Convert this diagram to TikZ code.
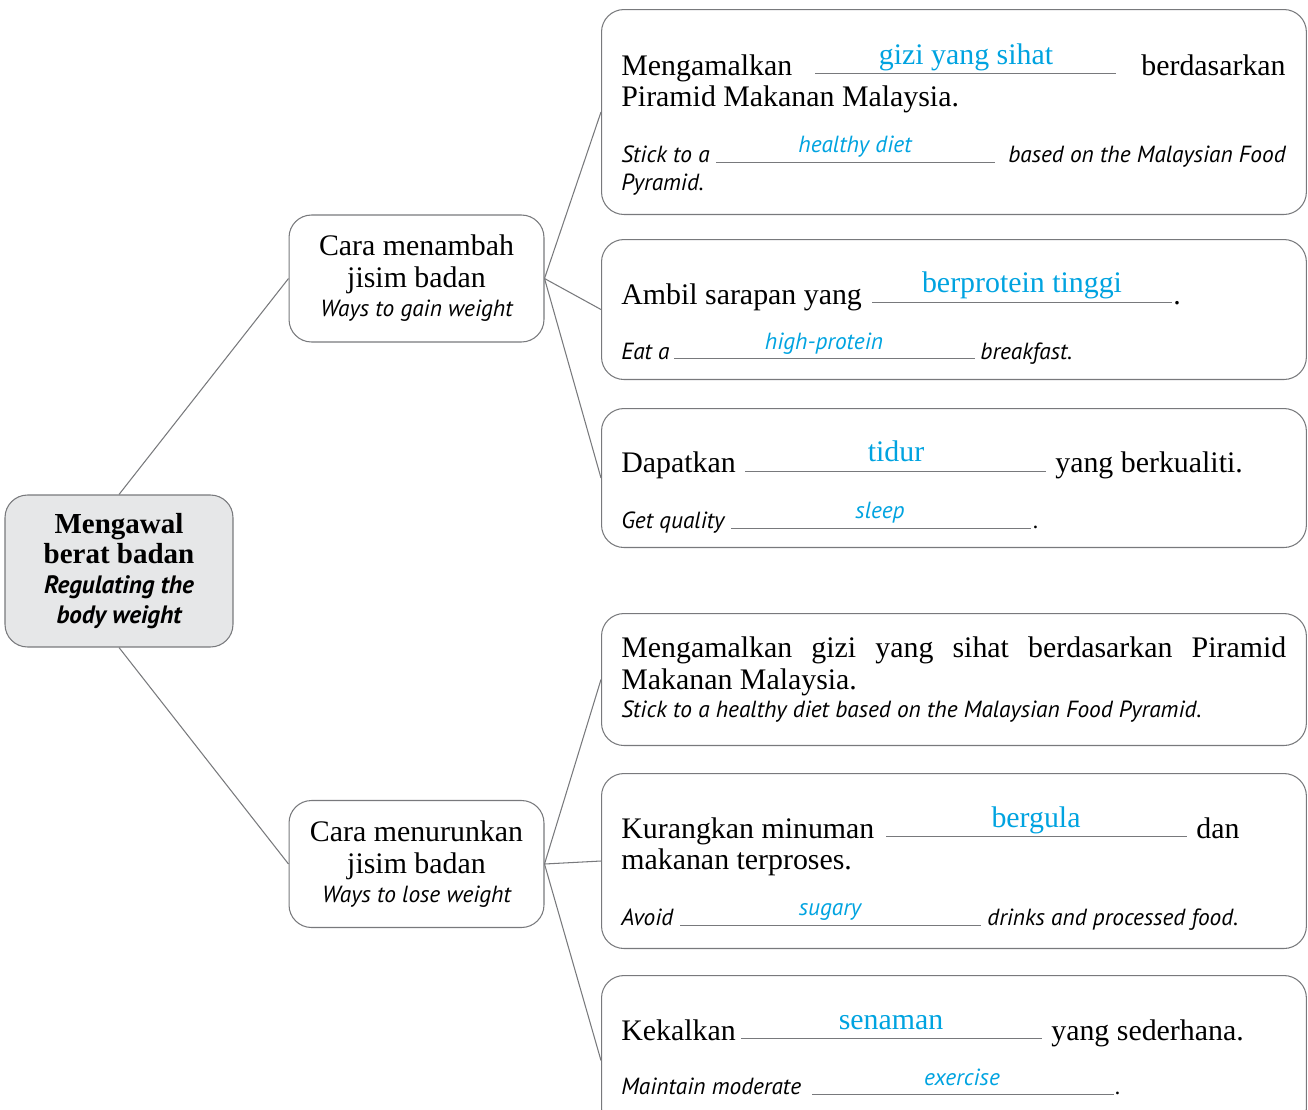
\documentclass[tikz,border=0pt]{standalone}
\usepackage{fontspec}
\setmainfont{Liberation Serif}
\newfontfamily\ensf{PT Sans}

\definecolor{linegray}{RGB}{120,121,124}
\definecolor{rootgray}{RGB}{230,231,232}
\definecolor{ansblue}{RGB}{0,163,224}

\newcommand\msfont{\fontsize{17}{18.1}\selectfont}
\newcommand\enfont{\ensf\itshape\fontsize{13.3}{16}\selectfont}
\newcommand\rootms{\bfseries\fontsize{16.5}{17}\selectfont}
\newcommand\rooten{\ensf\bfseries\itshape\fontsize{14.3}{15.8}\selectfont}

\begin{document}
\begin{tikzpicture}[x=0.02cm, y=-0.02cm,
  link/.style={draw=linegray, line width=0.6pt},
  topic/.style={draw=linegray, line width=0.6pt, rounded corners=0.45cm, fill=rootgray,
    minimum width=4.56cm, minimum height=3.04cm, align=center, inner sep=0, font=\rootms},
  way/.style={draw=linegray, line width=0.6pt, rounded corners=0.45cm,
    minimum width=5.1cm, minimum height=2.54cm, align=center, inner sep=0, font=\msfont},
  card/.style={draw=linegray, line width=0.6pt, rounded corners=0.45cm,
    minimum width=14.1cm, anchor=north west, inner sep=0},
  ms/.style={font=\msfont, anchor=base west, inner sep=0},
  msr/.style={ms, anchor=base east},
  en/.style={font=\enfont, anchor=base west, inner sep=0},
  enr/.style={en, anchor=base east},
  ans/.style={font=\msfont, text=ansblue, anchor=base, inner sep=0},
  ansen/.style={font=\enfont, text=ansblue, anchor=base, inner sep=0},
  blank/.style={draw=linegray, line width=0.5pt}]

  \useasboundingbox (0,0) rectangle (1308,1109);

  %===========================
  % Main topic and the two ways
  %===========================
  \node[topic] (root) at (119,571)
    {\rule{0pt}{6pt}Mengawal\\berat badan\\{\rooten Regulating the}\\{\rooten body weight}};

  \node[way] (gain) at (416.5,278.5)
    {Cara menambah\\jisim badan\\[-1.5pt]{\enfont Ways to gain weight}};
  \node[way] (lose) at (416.5,864)
    {Cara menurunkan\\jisim badan\\[-1.5pt]{\enfont Ways to lose weight}};

  \draw[link] (root.north) -- (gain.west);
  \draw[link] (root.south) -- (lose.west);

  %===========================
  % Cards
  %===========================
  \node[card, minimum height=4.1cm] (b1) at (601,9) {};
  \node[card, minimum height=2.8cm] (b2) at (601,239) {};
  \node[card, minimum height=2.78cm] (b3) at (601,408) {};
  \node[card, minimum height=2.64cm] (b4) at (601,613) {};
  \node[card, minimum height=3.5cm] (b5) at (601,773) {};
  \node[card, minimum height=3.1cm] (b6) at (601,975) {};

  \draw[link] (gain.east) -- (b1.west);
  \draw[link] (gain.east) -- (b2.west);
  \draw[link] (gain.east) -- (b3.west);
  \draw[link] (lose.east) -- (b4.west);
  \draw[link] (lose.east) -- (b5.west);
  \draw[link] (lose.east) -- ([yshift=-0.15cm]b6.west);

  %===========================
  % Ways to gain weight
  %===========================
  % diet
  \node[ms] (t1a) at (621,75) {Mengamalkan};
  \draw[blank] (815,73) -- (1116,73);
  \node[ans] (a1a) at (966,64) {gizi yang sihat};
  \node[msr] (t1b) at (1286,75) {berdasarkan};
  \node[ms] (t1c) at (621,106) {Piramid Makanan Malaysia.};
  \node[en] (e1a) at (621,162) {Stick to a};
  \draw[blank] (716,162) -- (995,162);
  \node[ansen] (a1b) at (855,152) {healthy diet};
  \node[enr] (e1b) at (1286,162) {based on the Malaysian Food};
  \node[en] (e1c) at (621,190) {Pyramid.};

  % breakfast
  \node[ms] (t2a) at (621,304) {Ambil sarapan yang};
  \draw[blank] (872,302) -- (1172,302);
  \node[ans] (a2a) at (1022,292) {berprotein tinggi};
  \node[ms] (t2b) at (1173,304) {.};
  \node[en] (e2a) at (621,359) {Eat a};
  \draw[blank] (674,358) -- (975,358);
  \node[ansen] (a2b) at (824,349) {high-protein};
  \node[en] (e2b) at (980,359) {breakfast.};

  % sleep
  \node[ms] (t3a) at (621,472) {Dapatkan};
  \draw[blank] (745,471) -- (1046,471);
  \node[ans] (a3a) at (896,461) {tidur};
  \node[ms] (t3b) at (1055,472) {yang berkualiti.};
  \node[en] (e3a) at (621,528) {Get quality};
  \draw[blank] (731,528) -- (1031,528);
  \node[ansen] (a3b) at (880,518) {sleep};
  \node[en] (e3b) at (1033,528) {.};

  %===========================
  % Ways to lose weight
  %===========================
  % diet
  \node[ms] (t4a) at (621,657)
    {\makebox[13.3cm][s]{Mengamalkan gizi yang sihat berdasarkan Piramid}};
  \node[ms] (t4b) at (621,689) {Makanan Malaysia.};
  \node[en] (e4a) at (621,717) {Stick to a healthy diet based on the Malaysian Food Pyramid.};

  % sugary drinks
  \node[ms] (t5a) at (621,838) {Kurangkan minuman};
  \draw[blank] (886,836) -- (1187,836);
  \node[ans] (a5a) at (1036,827) {bergula};
  \node[ms] (t5b) at (1196,838) {dan};
  \node[ms] (t5c) at (621,869) {makanan terproses.};
  \node[en] (e5a) at (621,925) {Avoid};
  \draw[blank] (680,925) -- (981,925);
  \node[ansen] (a5b) at (830,915) {sugary};
  \node[en] (e5b) at (987,925) {drinks and processed food.};

  % exercise
  \node[ms] (t6a) at (621,1040) {Kekalkan};
  \draw[blank] (741,1038) -- (1042,1038);
  \node[ans] (a6a) at (891,1029) {senaman};
  \node[ms] (t6b) at (1051,1040) {yang sederhana.};
  \node[en] (e6a) at (621,1094) {Maintain moderate};
  \draw[blank] (812,1094) -- (1114,1094);
  \node[ansen] (a6b) at (962,1085) {exercise};
  \node[en] (e6b) at (1115,1094) {.};
\end{tikzpicture}
\end{document}
